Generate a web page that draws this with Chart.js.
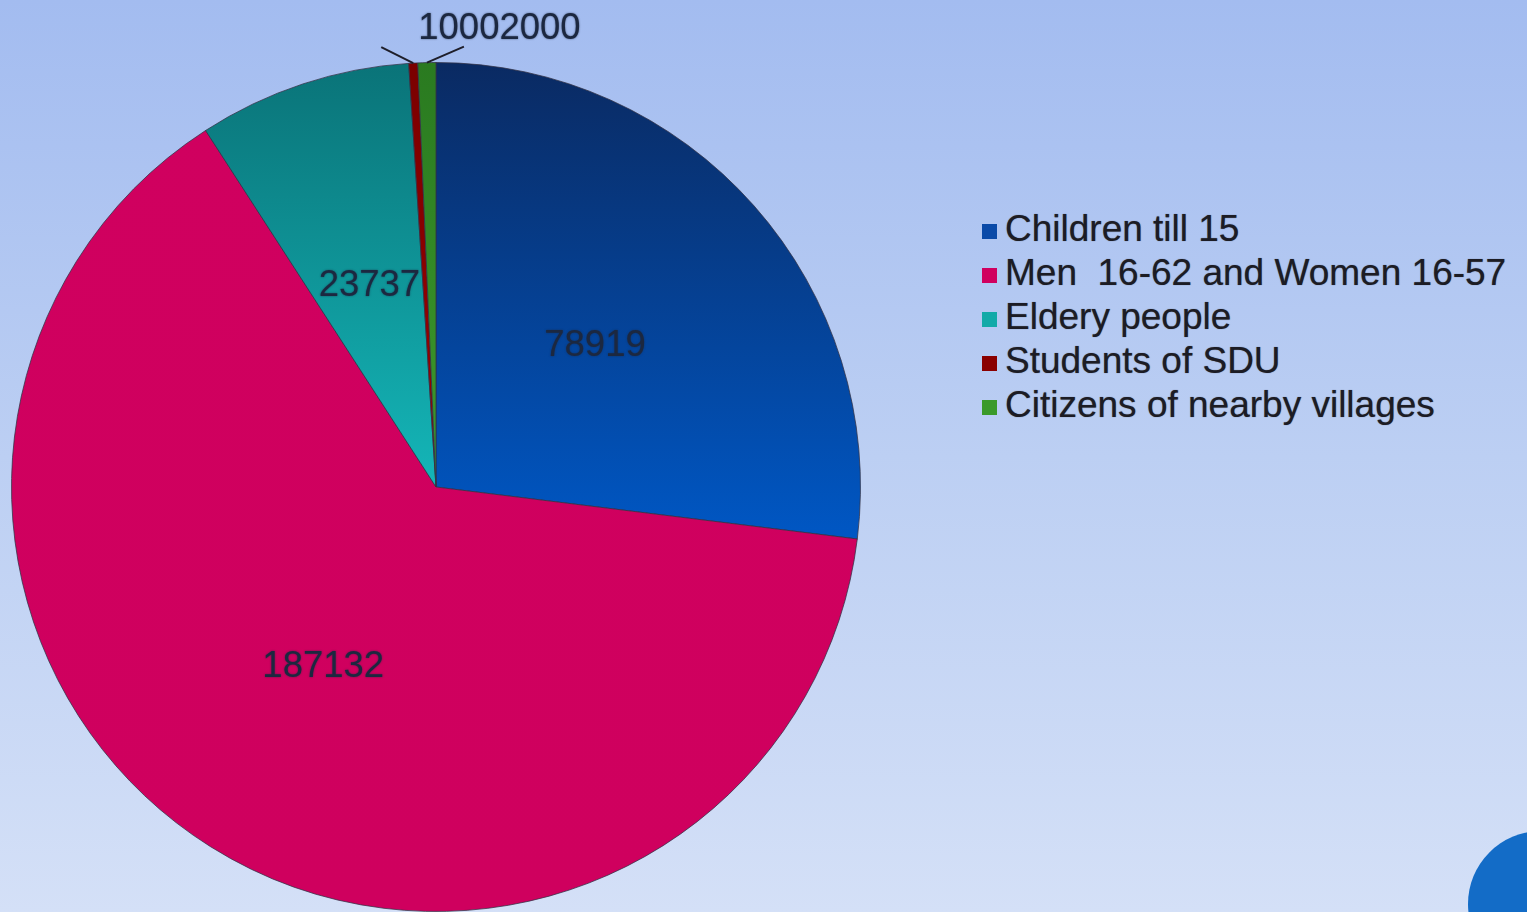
<!DOCTYPE html>
<html>
<head>
<meta charset="utf-8">
<script src="https://cdn.jsdelivr.net/npm/chart.js@4/dist/chart.umd.min.js"></script>
<style>
  html, body { margin: 0; padding: 0; }
  body {
    width: 1527px; height: 912px; overflow: hidden; position: relative;
    background: linear-gradient(to bottom, #a3bcf0 0%, #bccff3 50%, #d4e0f7 100%);
    font-family: "Liberation Sans", Arial, sans-serif;
  }
  #pieBox { position: absolute; left: 0; top: 0; width: 872px; height: 912px; }
  #legend { position: absolute; left: 982px; top: 207px; }
  #legend .row { height: 44px; line-height: 44px; font-size: 37px; color: #1c1c24; white-space: pre; text-shadow: 0 0 1px rgba(20,20,40,0.6); }
  #legend .box { display: inline-block; width: 15px; height: 15px; margin-right: 8px; vertical-align: 2px; }
  #dot { position: absolute; left: 1468px; top: 831px; width: 146px; height: 146px; border-radius: 50%; background: #136cc7; }
</style>
</head>
<body>
<div id="pieBox"><canvas id="popPie"></canvas></div>
<div id="legend"></div>
<div id="dot"></div>
<script>
// population groups
const groups = [
  "Children till 15",
  "Men  16-62 and Women 16-57",
  "Eldery people",
  "Students of SDU",
  "Citizens of nearby villages"
];
const people = [78919, 187132, 23737, 1000, 2000];
const swatches = ["#0a4aa8", "#d0005f", "#12aaa8", "#8a0000", "#3a9a2a"];

// vertical gradient stops per slice (top -> bottom of the pie)
const sliceStops = [
  [[0, "#0a2a62"], [0.56, "#0057c4"], [1, "#0060d0"]],
  [[0, "#d0005f"], [1, "#cf005e"]],
  [[0, "#0a7378"], [0.5, "#14b6b8"], [1, "#18c0c0"]],
  [[0, "#7a0000"], [0.5, "#a00000"], [1, "#a00000"]],
  [[0, "#2a7a20"], [0.5, "#3c9a2c"], [1, "#3c9a2c"]]
];

// legend
const legendEl = document.getElementById("legend");
groups.forEach((g, i) => {
  const row = document.createElement("div");
  row.className = "row";
  const box = document.createElement("span");
  box.className = "box";
  box.style.background = swatches[i];
  row.appendChild(box);
  row.appendChild(document.createTextNode(g));
  legendEl.appendChild(row);
});

function sliceFill(ctx) {
  const area = ctx.chart.chartArea;
  if (!area) return swatches[ctx.dataIndex];
  const g = ctx.chart.ctx.createLinearGradient(0, area.top, 0, area.bottom);
  sliceStops[ctx.dataIndex].forEach(s => g.addColorStop(s[0], s[1]));
  return g;
}

// value labels: big slices in the middle, thin ones above the pie with leader lines
const valueLabels = {
  id: "valueLabels",
  afterDatasetsDraw(chart) {
    const ctx = chart.ctx;
    const arcs = chart.getDatasetMeta(0).data;
    const total = people.reduce((a, b) => a + b, 0);
    const outside = [];
    ctx.save();
    ctx.font = "36.5px 'Liberation Sans', Arial, sans-serif";
    ctx.fillStyle = "#1c2840";
    ctx.shadowColor = "rgba(28,40,64,0.7)";
    ctx.shadowBlur = 2;
    ctx.textAlign = "center";
    ctx.textBaseline = "middle";
    arcs.forEach((arc, i) => {
      if (people[i] / total < 0.03) { outside.push(i); return; }
      const p = arc.tooltipPosition();
      ctx.fillText(String(people[i]), p.x, p.y);
    });
    if (outside.length) {
      const pts = outside.map(i => {
        const a = arcs[i];
        const mid = (a.startAngle + a.endAngle) / 2;
        return { x: a.x + Math.cos(mid) * a.outerRadius, y: a.y + Math.sin(mid) * a.outerRadius };
      });
      ctx.shadowBlur = 0;
      ctx.strokeStyle = "#1e1e2a";
      ctx.lineWidth = 2;
      pts.forEach((p, k) => {
        const dx = k === 0 ? -32 : 37;
        ctx.beginPath();
        ctx.moveTo(p.x, p.y);
        ctx.lineTo(p.x + dx, p.y - 16);
        ctx.stroke();
      });
      ctx.shadowBlur = 2;
      ctx.textAlign = "left";
      ctx.textBaseline = "alphabetic";
      ctx.fillText(outside.map(i => String(people[i])).join(""), pts[0].x + 5, pts[0].y - 24);
    }
    ctx.restore();
  }
};

new Chart(document.getElementById("popPie"), {
  type: "pie",
  data: {
    labels: groups,
    datasets: [{
      data: people,
      backgroundColor: sliceFill,
      borderColor: "rgba(50,50,70,0.75)",
      borderWidth: 1
    }]
  },
  options: {
    responsive: true,
    maintainAspectRatio: false,
    animation: false,
    layout: { padding: { top: 62, bottom: 0, left: 11, right: 11 } },
    plugins: {
      legend: { display: false },
      tooltip: { enabled: false }
    }
  },
  plugins: [valueLabels]
});
</script>
</body>
</html>
